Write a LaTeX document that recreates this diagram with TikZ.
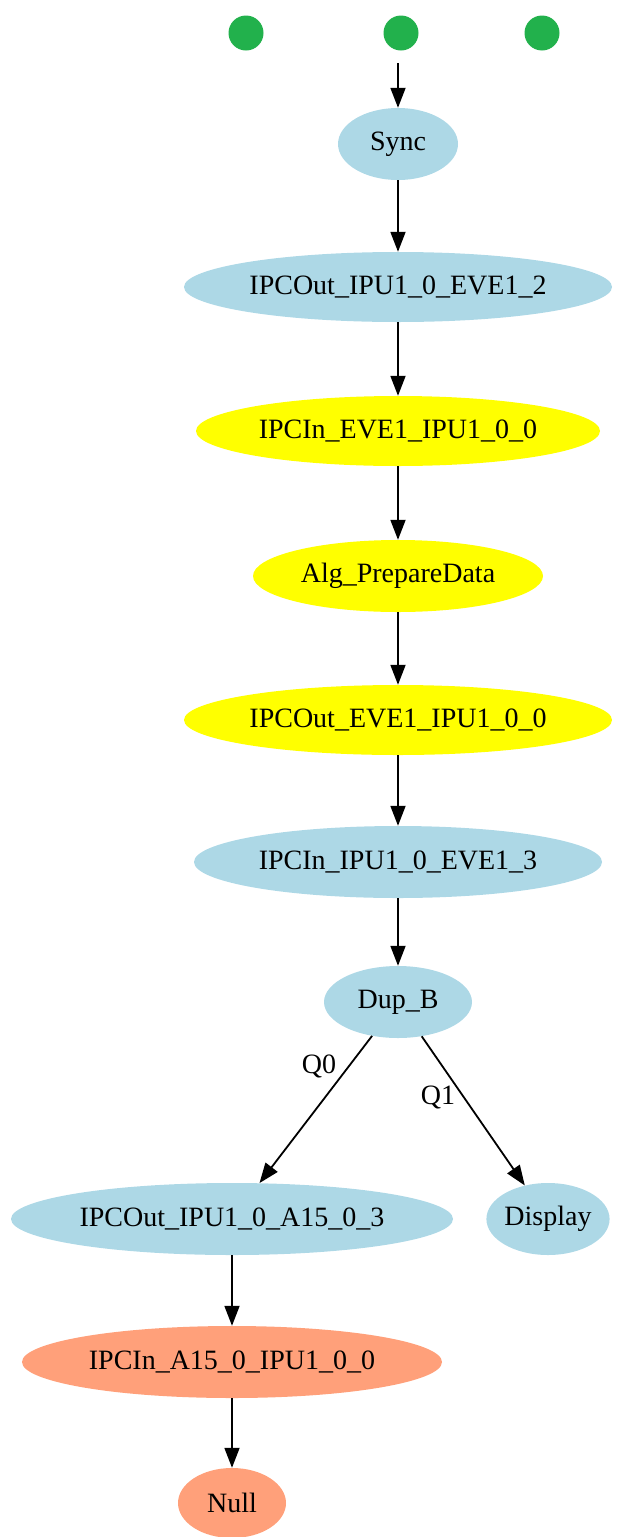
\documentclass[tikz,border=0pt]{standalone}
\usepackage{fontspec}
\setmainfont{Liberation Serif}
\usetikzlibrary{shapes.geometric,arrows.meta}
\definecolor{lblue}{HTML}{ADD8E6}
\definecolor{lyellow}{HTML}{FFFF00}
\definecolor{lsalmon}{HTML}{FFA07A}
\definecolor{dotgreen}{HTML}{22B14C}
\tikzset{
  el/.style={ellipse, inner sep=0pt, font=\fontsize{28}{32}\selectfont, text=black},
  blue/.style={el, fill=lblue},
  yel/.style={el, fill=lyellow},
  sal/.style={el, fill=lsalmon},
  dot/.style={circle, fill=dotgreen, minimum size=35pt, inner sep=0pt},
  edge/.style={line width=1.8pt, -{Triangle[length=20pt,width=15pt]}},
  lbl/.style={font=\fontsize{28}{32}\selectfont, inner sep=0pt}
}
\begin{document}
\begin{tikzpicture}[x=1pt,y=1pt]
\useasboundingbox (0,0) rectangle (633,-1537);
\node[dot] (d1) at (246,-33) {};
\node[dot] (d2) at (401,-33) {};
\node[dot] (d3) at (542,-33) {};
\coordinate (start) at (398,-63);
\node[blue, minimum width=120pt, minimum height=72pt] (sync) at (398,-144) {Sync};
\node[blue, minimum width=428pt, minimum height=70pt] (n1) at (398,-287) {IPCOut\_IPU1\_0\_EVE1\_2};
\node[yel, minimum width=404pt, minimum height=70pt] (n2) at (398,-431) {IPCIn\_EVE1\_IPU1\_0\_0};
\node[yel, minimum width=290pt, minimum height=72pt] (n3) at (398,-576) {Alg\_PrepareData};
\node[yel, minimum width=428pt, minimum height=70pt] (n4) at (398,-720) {IPCOut\_EVE1\_IPU1\_0\_0};
\node[blue, minimum width=408pt, minimum height=72pt] (n5) at (398,-862) {IPCIn\_IPU1\_0\_EVE1\_3};
\node[blue, minimum width=148pt, minimum height=72pt] (dup) at (398,-1002) {Dup\_B};
\node[blue, minimum width=442pt, minimum height=72pt] (n6) at (232,-1219) {IPCOut\_IPU1\_0\_A15\_0\_3};
\node[blue, minimum width=122pt, minimum height=72pt] (disp) at (548,-1219) {Display};
\node[sal, minimum width=420pt, minimum height=72pt] (n7) at (232,-1362) {IPCIn\_A15\_0\_IPU1\_0\_0};
\node[sal, minimum width=108pt, minimum height=70pt] (null) at (232,-1503) {Null};
\node[lbl] (q0) at (319,-1066) {Q0};
\node[lbl] (q1) at (438,-1097) {Q1};
\draw[edge] (start) -- (sync);
\draw[edge] (sync) -- (n1);
\draw[edge] (n1) -- (n2);
\draw[edge] (n2) -- (n3);
\draw[edge] (n3) -- (n4);
\draw[edge] (n4) -- (n5);
\draw[edge] (n5) -- (dup);
\draw[edge] (dup) -- (n6);
\draw[edge] (dup) -- (disp);
\draw[edge] (n6) -- (n7);
\draw[edge] (n7) -- (null);
\end{tikzpicture}
\end{document}
